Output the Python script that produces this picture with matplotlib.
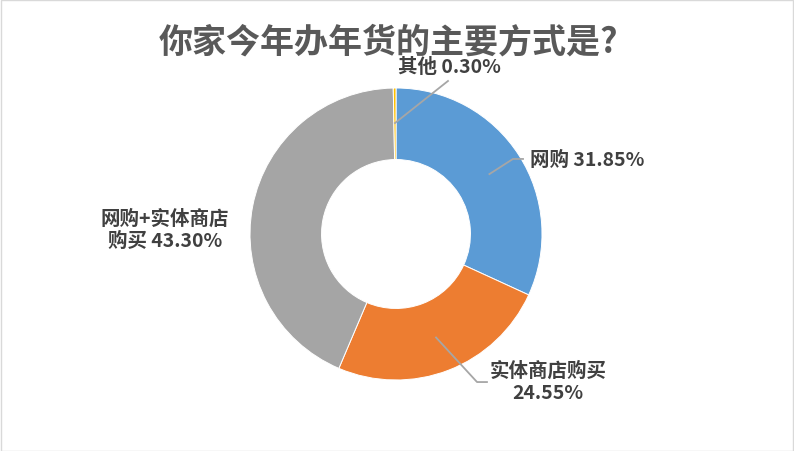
import numpy as np
import matplotlib.pyplot as plt
from matplotlib.patches import Rectangle

plt.rcParams['font.family'] = ['Noto Sans CJK SC', 'DejaVu Sans']

title = "你家今年办年货的主要方式是?"
categories = ["网购", "实体商店购买", "网购+实体商店购买", "其他"]
shares = [31.85, 24.55, 43.30, 0.30]
labels = ["网购 31.85%", "实体商店购买\n24.55%", "网购+实体商店\n购买 43.30%", "其他 0.30%"]
colors = ["#5B9BD5", "#ED7D31", "#A5A5A5", "#FFC000"]

W, H = 794, 452
cx, cy, R = 396, 235, 146  # donut centre / radius in pixels

fig = plt.figure(figsize=(W / 100, H / 100), dpi=100)
fig.patches.append(Rectangle((0.5 / W, 0.5 / H), 1 - 1.5 / W, 1 - 1.5 / H,
                             transform=fig.transFigure, fill=False,
                             edgecolor="#D9D9D9", linewidth=1))
ax = fig.add_axes([(cx - R) / W, (H - cy - R) / H, 2 * R / W, 2 * R / H])

wedges, _ = ax.pie(shares, colors=colors, startangle=90, counterclock=False,
                   radius=1, wedgeprops=dict(width=0.49, edgecolor="white", linewidth=0.7))
ax.set_xlim(-1, 1)
ax.set_ylim(-1, 1)
ax.set_aspect("equal")
ax.axis("off")

# label anchors (data units of the donut axes) and leader line bends
text_pos = [(0.918, 0.514), (1.041, -1.007), (-1.582, 0.034), (0.363, 1.144)]
text_ha = ["left", "center", "center", "center"]
leaders = [[(0.801, 0.514), (0.870, 0.514)],
           [(0.555, -1.014), (0.623, -1.014)],
           None,
           [(0.356, 1.048)]]

for w, lab, pos, ha, lead in zip(wedges, labels, text_pos, text_ha, leaders):
    if lead is not None:
        mid = np.deg2rad((w.theta1 + w.theta2) / 2)
        pts = [(0.76 * np.cos(mid), 0.76 * np.sin(mid))] + lead
        xs, ys = zip(*pts)
        ax.plot(xs, ys, color="#A6A6A6", linewidth=1.3, clip_on=False)
    ax.text(pos[0], pos[1], lab, ha=ha, va="center", fontsize=14, fontweight="bold",
            color="#404040", linespacing=1.2, clip_on=False)

fig.text(0.5 * (163 + 613) / W, 1 - 42 / H, title, ha="center", va="center",
         fontsize=24.5, fontweight="bold", color="#595959")

fig.savefig("out.png", dpi=100)
